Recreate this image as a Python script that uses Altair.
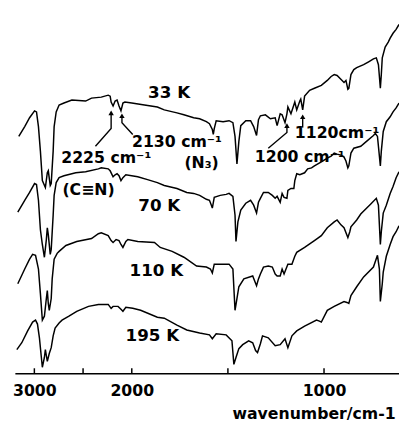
import altair as alt
import pandas as pd

# Wavenumbers (cm-1) and relative transmittance (arbitrary units, stacked traces)
wn_33 = [3160,3099,3049,2998,2978,2958,2938,2918,2887,2867,2857,2837,2827,2807,2797,2776,2746,2696,2615,2474,
         2413,2313,2242,2222,2212,2192,2171,2151,2131,2111,2091,2071,2000,1934,1867,1831,1765,1729,1678,1647,
         1612,1596,1581,1576,1571,1561,1525,1494,1474,1463,1453,1443,1433,1407,1382,1366,1351,1341,1331,1305,
         1279,1254,1244,1228,1218,1203,1193,1188,1172,1157,1152,1142,1126,1121,1111,1101,1075,1050,1014,983,
         963,947,932,906,896,886,876,871,860,845,830,794,768,743,728,717,707,702,697,682,666,656,641,625,610]
t_33 = [241,251,260,267,266,251,226,196,189,204,206,191,193,226,251,266,273,275,278,277,
        280,281,283,282,276,272,277,278,272,267,275,276,275,273,271,268,265,263,260,259,
        256,254,248,243,249,257,256,257,255,241,213,236,252,257,257,251,242,258,262,263,
        259,260,252,264,263,255,264,271,264,273,276,268,277,279,268,282,288,290,293,298,
        302,304,303,298,296,298,289,290,304,309,311,314,317,320,321,314,290,304,321,332,
        337,341,346,350,355]

wn_70 = [3170,3099,3049,2998,2978,2958,2938,2918,2897,2877,2867,2857,2837,2827,2807,2797,2776,2746,2696,2575,
         2474,2343,2313,2242,2222,2192,2171,2151,2131,2111,2091,2061,1969,1918,1867,1831,1765,1714,1678,1647,
         1612,1596,1586,1581,1571,1540,1509,1494,1474,1463,1458,1448,1433,1407,1382,1366,1351,1341,1331,1315,
         1290,1269,1254,1244,1228,1218,1208,1193,1188,1172,1157,1152,1142,1126,1101,1085,1065,1050,1014,983,
         963,947,932,912,896,886,876,871,860,845,809,779,743,733,722,712,707,702,692,676,656,641,625,610]
t_70 = [164,176,184,193,192,176,146,131,118,136,148,141,121,126,161,181,194,199,201,204,
        205,208,209,208,206,200,202,203,201,196,199,202,200,197,194,191,188,184,183,181,
        177,176,171,168,179,181,182,183,180,161,134,154,166,173,176,171,163,174,178,184,
        184,181,178,180,174,183,179,178,186,188,188,196,203,202,204,208,209,211,215,219,
        221,224,223,222,220,216,209,211,224,229,231,236,242,244,241,221,211,226,246,256,
        261,266,270,275]

wn_110 = [3170,3099,3049,3018,2988,2958,2938,2918,2897,2877,2867,2857,2847,2827,2817,2797,2766,2746,2676,2565,
          2413,2343,2313,2242,2212,2192,2161,2131,2111,2091,2061,2040,1969,1882,1852,1790,1729,1714,1663,1612,
          1591,1581,1571,1535,1494,1474,1463,1453,1443,1417,1371,1351,1341,1331,1315,1290,1269,1254,1244,1228,
          1218,1208,1188,1167,1152,1142,1101,1050,1014,983,947,932,912,896,876,866,860,830,809,758,
          728,717,707,702,692,676,656,641,625,610]
t_110 = [91,106,116,121,120,106,81,54,58,76,84,71,64,76,96,116,122,124,130,134,
         137,142,143,140,135,133,136,135,131,128,134,136,134,133,128,124,118,116,109,108,
         106,102,111,111,111,106,64,76,88,96,99,89,96,101,108,109,108,101,99,99,
         106,101,111,111,119,123,128,135,140,148,154,156,151,148,138,144,149,156,162,172,
         178,171,131,144,163,171,183,190,199,205]

wn_195 = [3180,3129,3069,3018,2988,2968,2948,2928,2918,2897,2887,2877,2867,2847,2827,2807,2787,2746,2716,2645,
          2565,2444,2343,2242,2212,2192,2141,2111,2091,2061,1995,1954,1867,1831,1765,1714,1647,1596,1581,1561,
          1509,1479,1469,1458,1443,1423,1392,1371,1356,1346,1331,1320,1290,1254,1228,1203,1188,1167,1142,1101,
          1039,1024,1014,983,947,896,881,871,860,830,794,743,722,712,707,697,692,676,656,641,625,610]
t_195 = [24,31,43,52,54,50,36,16,6,16,24,18,12,20,26,38,46,51,54,58,
         63,68,70,70,66,68,68,65,63,67,66,64,57,56,49,44,41,39,35,40,
         39,33,9,16,25,29,33,31,23,21,30,38,36,28,29,35,26,38,43,48,
         54,53,52,64,68,73,72,71,79,88,98,108,120,106,73,91,103,119,131,139,
         144,150]

# Annotations
label_text = ["33 K", "70 K", "110 K", "195 K", "2225 cm\u207b\u00b9", "(C\u2261N)",
              "2130 cm\u207b\u00b9", "(N\u2083)", "1200 cm\u207b\u00b9", "1120cm\u207b\u00b9"]
label_wn = [1806, 1857, 1872, 1893, 2262, 2444, 1765, 1637, 1126, 932]
label_t = [285, 170, 104, 38, 219, 186, 235, 214, 220, 244]
label_fs = [17, 17, 17, 17, 16, 16, 16, 16, 16, 16]

arrow_id = ["a", "a", "a", "b", "b", "b", "c", "c", "c", "d", "d"]
arrow_wn = [2373, 2212, 2212, 1995, 2101, 2101, 1290, 1193, 1193, 1111, 1111]
arrow_t = [231, 249, 263, 243, 255, 261, 229, 245, 250, 250, 260]
head_wn = [2212, 2101, 1193, 1111]
head_t = [265, 262, 252, 261]

tick_wn = [3000, 2500, 2000, 1500, 1000]

rows = []
for name, w, t in [("33 K", wn_33, t_33), ("70 K", wn_70, t_70),
                   ("110 K", wn_110, t_110), ("195 K", wn_195, t_195)]:
    for i, (a, b) in enumerate(zip(w, t)):
        rows.append({"trace": name, "wn": a, "t": b, "i": i})
df = pd.DataFrame(rows)

labels = pd.DataFrame({"text": label_text, "wn": label_wn, "t": label_t, "fs": label_fs})
arrows = pd.DataFrame({"id": arrow_id, "wn": arrow_wn, "t": arrow_t, "i": list(range(len(arrow_id)))})
heads = pd.DataFrame({"wn": head_wn, "t": head_t})
ticks = pd.DataFrame({"wn": tick_wn, "y0": [0] * len(tick_wn), "y1": [5] * len(tick_wn)})

xscale = alt.Scale(domain=[3200, 2000, 610], range=[0, 119, 391], nice=False, zero=False)
yscale = alt.Scale(domain=[0, 368], nice=False, zero=False)

xaxis = alt.Axis(values=[3000, 2000, 1000], format="d", ticks=False, grid=False,
                 domainColor="black", domainWidth=1.6,
                 labelFont="DejaVu Sans", labelFontSize=16, labelFontWeight="bold",
                 labelColor="black", labelPadding=10,
                 title="wavenumber/cm-1", titleFont="DejaVu Sans", titleFontSize=16,
                 titleFontWeight="bold", titleColor="black", titleAlign="left",
                 titleAnchor="start", titleX=221, titleY=33, titleBaseline="top")

lines = alt.Chart(df).mark_line(color="black", strokeWidth=1.5).encode(
    x=alt.X("wn:Q", scale=xscale, axis=xaxis),
    y=alt.Y("t:Q", scale=yscale, axis=None),
    detail="trace:N",
    order="i:Q",
)

tick_marks = alt.Chart(ticks).mark_rule(color="black", strokeWidth=1.5).encode(
    x=alt.X("wn:Q", scale=xscale),
    y=alt.Y("y0:Q", scale=yscale),
    y2="y1:Q",
)

arrow_lines = alt.Chart(arrows).mark_line(color="black", strokeWidth=1.4).encode(
    x=alt.X("wn:Q", scale=xscale),
    y=alt.Y("t:Q", scale=yscale),
    detail="id:N",
    order="i:Q",
)

arrow_heads = alt.Chart(heads).mark_point(shape="triangle-up", filled=True, color="black",
                                          size=30, opacity=1).encode(
    x=alt.X("wn:Q", scale=xscale),
    y=alt.Y("t:Q", scale=yscale),
)

texts = alt.Chart(labels).mark_text(font="DejaVu Sans", fontWeight="bold", color="black",
                                    align="center", baseline="middle").encode(
    x=alt.X("wn:Q", scale=xscale),
    y=alt.Y("t:Q", scale=yscale),
    text="text:N",
    size=alt.Size("fs:Q", scale=None, legend=None),
)

chart = alt.layer(lines, tick_marks, arrow_lines, arrow_heads, texts).properties(
    width=391, height=368,
    padding={"left": 7, "top": 0, "right": 0, "bottom": 48},
    autosize=alt.AutoSizeParams(type="none"),
    background="white",
).configure_view(strokeWidth=0)

chart.save("out.html", embed_options={"renderer": "svg", "actions": False})
